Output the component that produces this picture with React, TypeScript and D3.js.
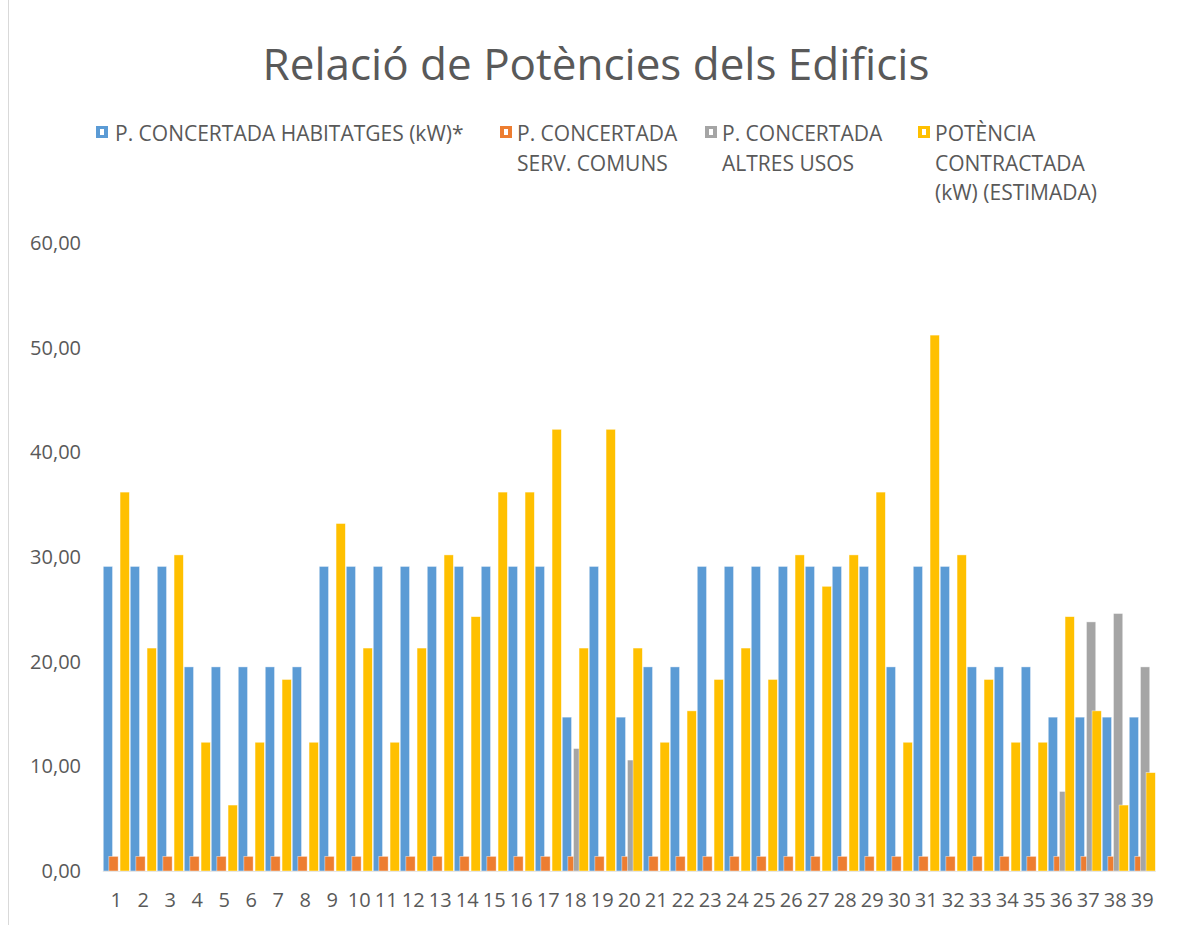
import React from 'react';
import * as d3 from 'd3';

const categories = d3.range(1, 40).map(String);

const habitatges = [
  29.1, 29.1, 29.1, 19.5, 19.5, 19.5, 19.5, 19.5, 29.1, 29.1,
  29.1, 29.1, 29.1, 29.1, 29.1, 29.1, 29.1, 14.7, 29.1, 14.7,
  19.5, 19.5, 29.1, 29.1, 29.1, 29.1, 29.1, 29.1, 29.1, 19.5,
  29.1, 29.1, 19.5, 19.5, 19.5, 14.7, 14.7, 14.7, 14.7,
];
const servComuns = categories.map(() => 1.4);
const altresUsos = [
  0, 0, 0, 0, 0, 0, 0, 0, 0, 0,
  0, 0, 0, 0, 0, 0, 0, 11.7, 0, 10.6,
  0, 0, 0, 0, 0, 0, 0, 0, 0, 0,
  0, 0, 0, 0, 0, 7.6, 23.8, 24.6, 19.5,
];
const contractada = [
  36.2, 21.3, 30.2, 12.3, 6.3, 12.3, 18.3, 12.3, 33.2, 21.3,
  12.3, 21.3, 30.2, 24.3, 36.2, 36.2, 42.2, 21.3, 42.2, 21.3,
  12.3, 15.3, 18.3, 21.3, 18.3, 30.2, 27.2, 30.2, 36.2, 12.3,
  51.2, 30.2, 18.3, 12.3, 12.3, 24.3, 15.3, 6.3, 9.4,
];
const yTicks = [0, 10, 20, 30, 40, 50, 60];

const seriesNames = ['hab', 'serv', 'altres', 'pot'];
const seriesValues = [habitatges, servComuns, altresUsos, contractada];
const seriesColors = ['#5B9BD5', '#ED7D31', '#A5A5A5', '#FFC000'];
const legendLabels = [
  ['P. CONCERTADA HABITATGES (kW)*'],
  ['P. CONCERTADA', 'SERV. COMUNS'],
  ['P. CONCERTADA', 'ALTRES USOS'],
  ['POTÈNCIA', 'CONTRACTADA', '(kW) (ESTIMADA)'],
];
const legendX = [96, 500, 705, 918];

const W = 1183;
const H = 925;
const FONT = '"Open Sans", sans-serif';
const TXT = '#595959';

const fmt = d3.formatLocale({ decimal: ',', thousands: '.', grouping: [3], currency: ['', '€'] }).format('.2f');

export default function App() {
  const x = d3.scaleBand().domain(categories).range([102.8, 1155.8]);
  const y = d3.scaleLinear().domain([0, 60]).range([871, 243]);
  const barW = 9.3;
  const offset = d3.scalePoint().domain(seriesNames).range([0.45, 0.45 + 16.8]);

  return (
    <svg width={W} height={H} style={{ position: 'absolute', left: 0, top: 0, background: '#fff' }}>
      <line x1={8.5} x2={8.5} y1={0} y2={H} stroke="#d9d9d9" />
      <text x={596} y={80} textAnchor="middle" fontFamily={FONT} fontSize={44} fill={TXT}>
        Relació de Potències dels Edificis
      </text>

      {legendLabels.map((lines, i) => (
        <g key={i} transform={`translate(${legendX[i]},0)`}>
          <rect x={0} y={126} width={12} height={12} fill={seriesColors[i]} />
          <rect x={4} y={129} width={4} height={6} fill="#fff" />
          {lines.map((t, j) => (
            <text key={j} x={i === 0 ? 19 : 17} y={141 + j * 29.5} fontFamily={FONT} fontSize={21} fill={TXT}>
              {t}
            </text>
          ))}
        </g>
      ))}

      {yTicks.map((t) => (
        <text key={t} x={81} y={y(t)} dy="0.35em" textAnchor="end" fontFamily={FONT} fontSize={20} fill={TXT}>
          {fmt(t)}
        </text>
      ))}

      {seriesValues.map((vals, s) => (
        <g key={s} fill={seriesColors[s]} stroke="#fff" strokeOpacity={0.6} strokeWidth={0.7}>
          {vals.map((v, i) =>
            v > 0 ? (
              <rect
                key={i}
                x={(x(categories[i]) as number) + (offset(seriesNames[s]) as number)}
                y={y(v)}
                width={barW}
                height={y(0) - y(v)}
              />
            ) : null
          )}
        </g>
      ))}

      <line x1={x.range()[0]} x2={x.range()[1]} y1={y(0) + 0.5} y2={y(0) + 0.5} stroke="#e6e6e6" />

      {categories.map((c) => (
        <text
          key={c}
          x={(x(c) as number) + x.bandwidth() / 2}
          y={907}
          textAnchor="middle"
          fontFamily={FONT}
          fontSize={20}
          fill={TXT}
        >
          {c}
        </text>
      ))}
    </svg>
  );
}
